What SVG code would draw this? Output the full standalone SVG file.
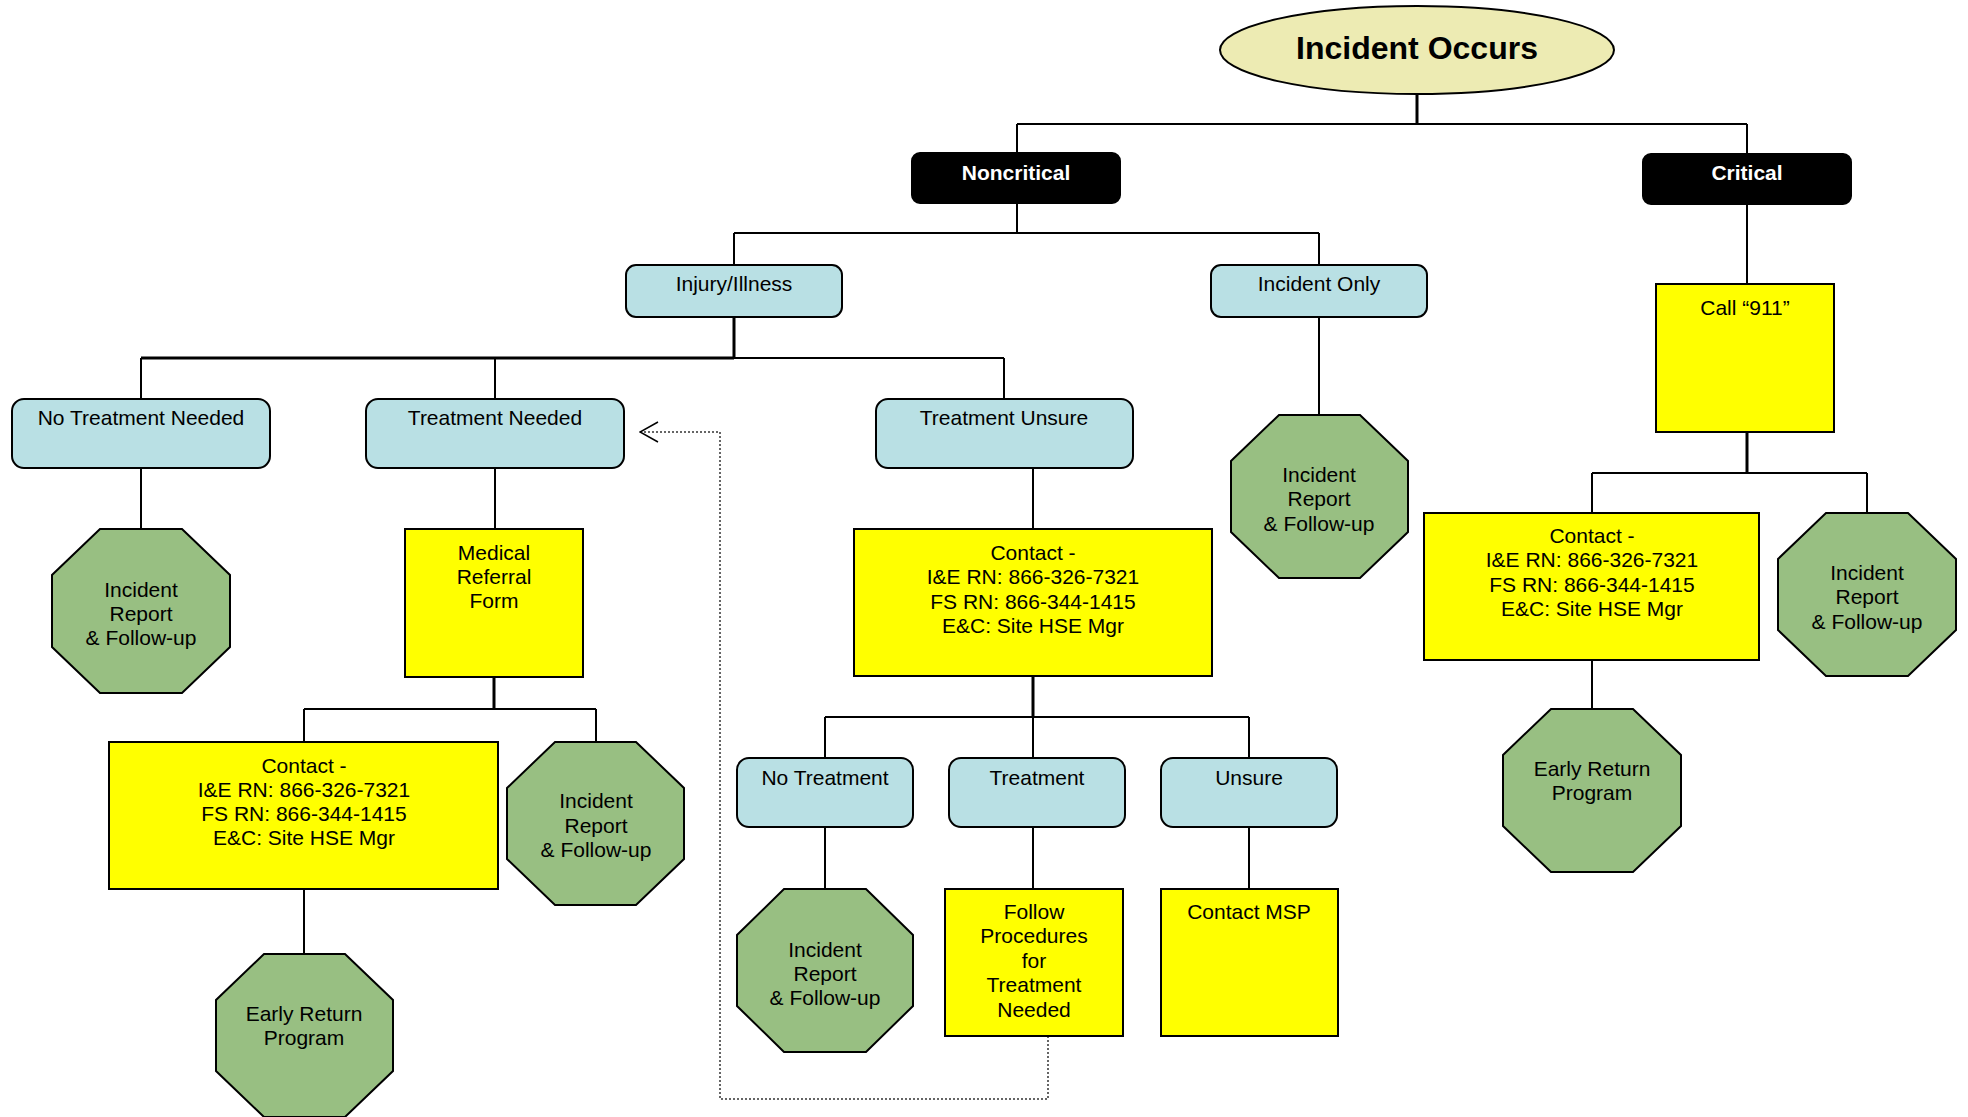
<svg xmlns="http://www.w3.org/2000/svg" width="1968" height="1117" viewBox="0 0 1968 1117">
<defs>
<style>
text{font-family:"Liberation Sans",Arial,sans-serif;font-size:21px;fill:#000;text-anchor:middle}
.b{font-weight:bold;fill:#fff}
.title{font-weight:bold;font-size:32px;fill:#000}
.blue{fill:#B9E0E4;stroke:#000;stroke-width:2}
.blk{fill:#000;stroke:#000;stroke-width:2}
.yel{fill:#FFFF00;stroke:#000;stroke-width:2}
.oct{fill:#98BF82;stroke:#000;stroke-width:2}
.ell{fill:#EDEBB3;stroke:#000;stroke-width:2}
.c{fill:none;stroke:#000;stroke-width:2}
.t{fill:none;stroke:#000;stroke-width:3}
.d{fill:none;stroke:#333;stroke-width:1.5;stroke-dasharray:2 2}
</style>
<marker id="open" viewBox="0 0 20 22" refX="19" refY="11" markerWidth="20" markerHeight="22" markerUnits="userSpaceOnUse" orient="auto">
<path d="M1 1 L19 11 L1 21" fill="none" stroke="#000" stroke-width="1.5"/>
</marker>
</defs>

<g id="connectors">
<path class="t" d="M1417 94 V124"/>
<path class="c" d="M1017 124 H1747 M1017 124 V153 M1747 124 V154"/>
<path class="c" d="M1017 203 V233 M734 233 H1319 M734 233 V265 M1319 233 V265"/>
<path class="c" d="M1747 204 V284"/>
<path class="t" d="M734 317 V358 M141 358 H734"/>
<path class="c" d="M734 358 H1004 M141 358 V399 M495 358 V399 M1004 358 V399"/>
<path class="c" d="M1319 317 V415"/>
<path class="c" d="M141 468 V529 M495 468 V529"/>
<path class="t" d="M494 677 V709"/>
<path class="c" d="M304 709 H596 M304 709 V742 M596 709 V742 M304 889 V954"/>
<path class="c" d="M1033 468 V529"/>
<path class="t" d="M1033 676 V717"/>
<path class="c" d="M825 717 H1249 M825 717 V758 M1033 717 V758 M1249 717 V758"/>
<path class="c" d="M825 827 V889 M1033 827 V889 M1249 827 V889"/>
<path class="t" d="M1747 432 V473"/>
<path class="c" d="M1592 473 H1867 M1592 473 V513 M1867 473 V513 M1592 660 V709"/>
<path class="d" d="M1048 1036 V1099 H720 V432 H640" marker-end="url(#open)"/>
</g>

<g id="incident-occurs">
<ellipse class="ell" cx="1417" cy="50" rx="197" ry="44"/>
<text class="title" x="1417" y="59">Incident Occurs</text>
</g>

<g id="noncritical">
<rect class="blk" x="912" y="153" width="208" height="50" rx="8"/>
<text class="b" x="1016" y="180">Noncritical</text>
</g>
<g id="critical">
<rect class="blk" x="1643" y="154" width="208" height="50" rx="8"/>
<text class="b" x="1747" y="180">Critical</text>
</g>

<g id="injury-illness">
<rect class="blue" x="626" y="265" width="216" height="52" rx="10"/>
<text x="734" y="291">Injury/Illness</text>
</g>
<g id="incident-only">
<rect class="blue" x="1211" y="265" width="216" height="52" rx="10"/>
<text x="1319" y="291">Incident Only</text>
</g>

<g id="call-911">
<rect class="yel" x="1656" y="284" width="178" height="148"/>
<text x="1745" y="315">Call “911”</text>
</g>

<g id="no-treatment-needed">
<rect class="blue" x="12" y="399" width="258" height="69" rx="12"/>
<text x="141" y="425">No Treatment Needed</text>
</g>
<g id="treatment-needed">
<rect class="blue" x="366" y="399" width="258" height="69" rx="12"/>
<text x="495" y="425">Treatment Needed</text>
</g>
<g id="treatment-unsure">
<rect class="blue" x="876" y="399" width="257" height="69" rx="12"/>
<text x="1004" y="425">Treatment Unsure</text>
</g>

<g id="incident-only-report">
<polygon class="oct" points="1279,415 1360,415 1408,461 1408,532 1360,578 1279,578 1231,532 1231,461"/>
<text x="1319" y="482">Incident</text>
<text x="1319" y="506">Report</text>
<text x="1319" y="531">&amp; Follow-up</text>
</g>

<g id="no-treatment-report">
<polygon class="oct" points="100,529 182,529 230,575 230,647 182,693 100,693 52,647 52,575"/>
<text x="141" y="597">Incident</text>
<text x="141" y="621">Report</text>
<text x="141" y="645">&amp; Follow-up</text>
</g>

<g id="medical-referral">
<rect class="yel" x="405" y="529" width="178" height="148"/>
<text x="494" y="560">Medical</text>
<text x="494" y="584">Referral</text>
<text x="494" y="608">Form</text>
</g>

<g id="contact-left">
<rect class="yel" x="109" y="742" width="389" height="147"/>
<text x="304" y="773">Contact -</text>
<text x="304" y="797">I&amp;E RN: 866-326-7321</text>
<text x="304" y="821">FS RN: 866-344-1415</text>
<text x="304" y="845">E&amp;C: Site HSE Mgr</text>
</g>

<g id="medical-report">
<polygon class="oct" points="555,742 636,742 684,788 684,859 636,905 555,905 507,859 507,788"/>
<text x="596" y="808">Incident</text>
<text x="596" y="833">Report</text>
<text x="596" y="857">&amp; Follow-up</text>
</g>

<g id="early-return-left">
<polygon class="oct" points="264,954 345,954 393,1000 393,1071 345,1117 264,1117 216,1071 216,1000"/>
<text x="304" y="1021">Early Return</text>
<text x="304" y="1045">Program</text>
</g>

<g id="contact-center">
<rect class="yel" x="854" y="529" width="358" height="147"/>
<text x="1033" y="560">Contact -</text>
<text x="1033" y="584">I&amp;E RN: 866-326-7321</text>
<text x="1033" y="609">FS RN: 866-344-1415</text>
<text x="1033" y="633">E&amp;C: Site HSE Mgr</text>
</g>

<g id="no-treatment">
<rect class="blue" x="737" y="758" width="176" height="69" rx="12"/>
<text x="825" y="785">No Treatment</text>
</g>
<g id="treatment">
<rect class="blue" x="949" y="758" width="176" height="69" rx="12"/>
<text x="1037" y="785">Treatment</text>
</g>
<g id="unsure">
<rect class="blue" x="1161" y="758" width="176" height="69" rx="12"/>
<text x="1249" y="785">Unsure</text>
</g>

<g id="no-treatment-incident-report">
<polygon class="oct" points="784,889 866,889 913,935 913,1006 866,1052 784,1052 737,1006 737,935"/>
<text x="825" y="957">Incident</text>
<text x="825" y="981">Report</text>
<text x="825" y="1005">&amp; Follow-up</text>
</g>

<g id="follow-procedures">
<rect class="yel" x="945" y="889" width="178" height="147"/>
<text x="1034" y="919">Follow</text>
<text x="1034" y="943">Procedures</text>
<text x="1034" y="968">for</text>
<text x="1034" y="992">Treatment</text>
<text x="1034" y="1017">Needed</text>
</g>

<g id="contact-msp">
<rect class="yel" x="1161" y="889" width="177" height="147"/>
<text x="1249" y="919">Contact MSP</text>
</g>

<g id="contact-right">
<rect class="yel" x="1424" y="513" width="335" height="147"/>
<text x="1592" y="543">Contact -</text>
<text x="1592" y="567">I&amp;E RN: 866-326-7321</text>
<text x="1592" y="592">FS RN: 866-344-1415</text>
<text x="1592" y="616">E&amp;C: Site HSE Mgr</text>
</g>

<g id="critical-report">
<polygon class="oct" points="1826,513 1908,513 1956,559 1956,630 1908,676 1826,676 1778,630 1778,559"/>
<text x="1867" y="580">Incident</text>
<text x="1867" y="604">Report</text>
<text x="1867" y="629">&amp; Follow-up</text>
</g>

<g id="early-return-right">
<polygon class="oct" points="1551,709 1633,709 1681,755 1681,826 1633,872 1551,872 1503,826 1503,755"/>
<text x="1592" y="776">Early Return</text>
<text x="1592" y="800">Program</text>
</g>
</svg>
